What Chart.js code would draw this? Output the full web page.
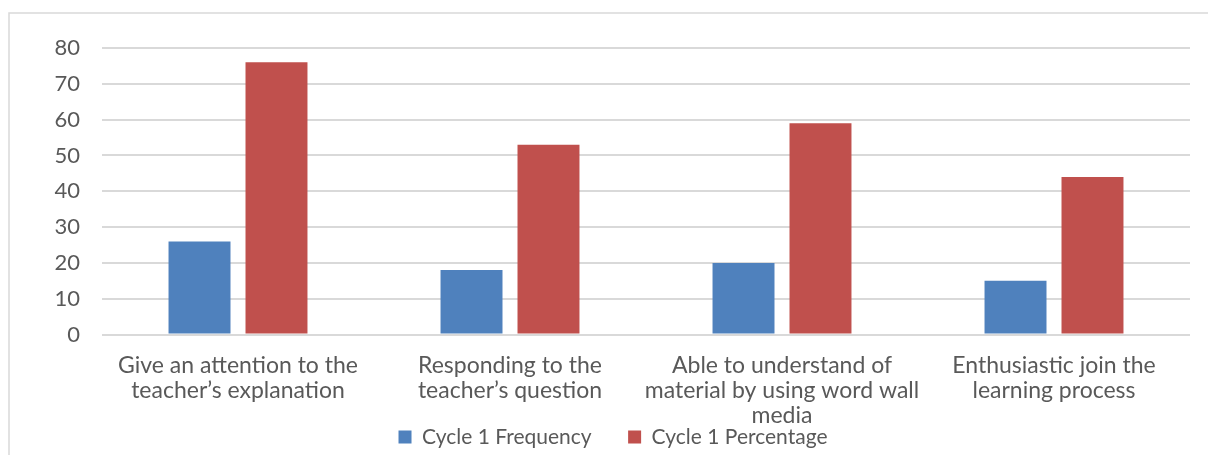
<!DOCTYPE html>
<html>
<head>
<meta charset="utf-8">
<script src="https://cdn.jsdelivr.net/npm/chart.js@4.4.0/dist/chart.umd.min.js"></script>
<style>
  html, body { margin: 0; padding: 0; background: #fff; overflow: hidden; }
  #wrap { position: relative; width: 1208px; height: 455px; }
  canvas { display: block; }
</style>
</head>
<body>
<div id="wrap"><canvas id="c" width="1208" height="455"></canvas></div>
<script>
// Category labels (pre-split into lines)
const categories = [
  ["Give an attention to the", "teacher’s explanation"],
  ["Responding to the", "teacher’s question"],
  ["Able to understand of", "material by using word wall", "media"],
  ["Enthusiastic join the", "learning process"]
];
const seriesNames = ["Cycle 1 Frequency", "Cycle 1 Percentage"];
const cycle1Frequency = [26, 18, 20, 15];
const cycle1Percentage = [76, 53, 59, 44];
const yTickValues = [0, 10, 20, 30, 40, 50, 60, 70, 80];

const TEXT = "#595959";
const GRID = "#d9d9d9";
const FONT = "Lato";

// Light frame around the whole chart
const framePlugin = {
  id: "frame",
  beforeDraw(chart) {
    const ctx = chart.ctx;
    ctx.save();
    ctx.strokeStyle = GRID;
    ctx.lineWidth = 1.5;
    ctx.strokeRect(9, 13, 1220, 470);
    ctx.restore();
    // category labels run past the axis box into the legend band; let them show in full
    const x = chart.scales.x;
    if (x) x._computeLabelArea = () => undefined;
  }
};

new Chart(document.getElementById("c"), {
  type: "bar",
  data: {
    labels: categories,
    datasets: [
      {
        label: seriesNames[0],
        data: cycle1Frequency,
        backgroundColor: "#4f81bd",
        borderWidth: 0,
        barPercentage: 0.805,
        categoryPercentage: 0.566
      },
      {
        label: seriesNames[1],
        data: cycle1Percentage,
        backgroundColor: "#c0504d",
        borderWidth: 0,
        barPercentage: 0.805,
        categoryPercentage: 0.566
      }
    ]
  },
  options: {
    responsive: false,
    animation: false,
    devicePixelRatio: 1,
    layout: { padding: { left: 36, right: 18, top: 48, bottom: -2.5 } },
    plugins: {
      tooltip: { enabled: false },
      legend: {
        position: "bottom",
        labels: {
          boxWidth: 13,
          boxHeight: 13,
          padding: 36.5,
          color: TEXT,
          font: { family: FONT, size: 21 }
        }
      }
    },
    scales: {
      x: {
        grid: { display: false, drawTicks: false },
        border: { display: false },
        ticks: {
          color: TEXT,
          maxRotation: 0,
          autoSkip: false,
          padding: 19,
          font: { family: FONT, size: 23, lineHeight: 1.087 }
        },
        afterFit(scale) { scale.height = 55.5; }
      },
      y: {
        min: 0,
        max: 80,
        afterBuildTicks(scale) { scale.ticks = yTickValues.map(v => ({ value: v })); },
        grid: { color: GRID, lineWidth: 2, drawTicks: false },
        border: { display: false },
        ticks: {
          color: TEXT,
          padding: 22,
          font: { family: FONT, size: 22 }
        },
        afterFit(scale) { scale.width = 66; }
      }
    }
  },
  plugins: [framePlugin]
});
</script>
</body>
</html>
